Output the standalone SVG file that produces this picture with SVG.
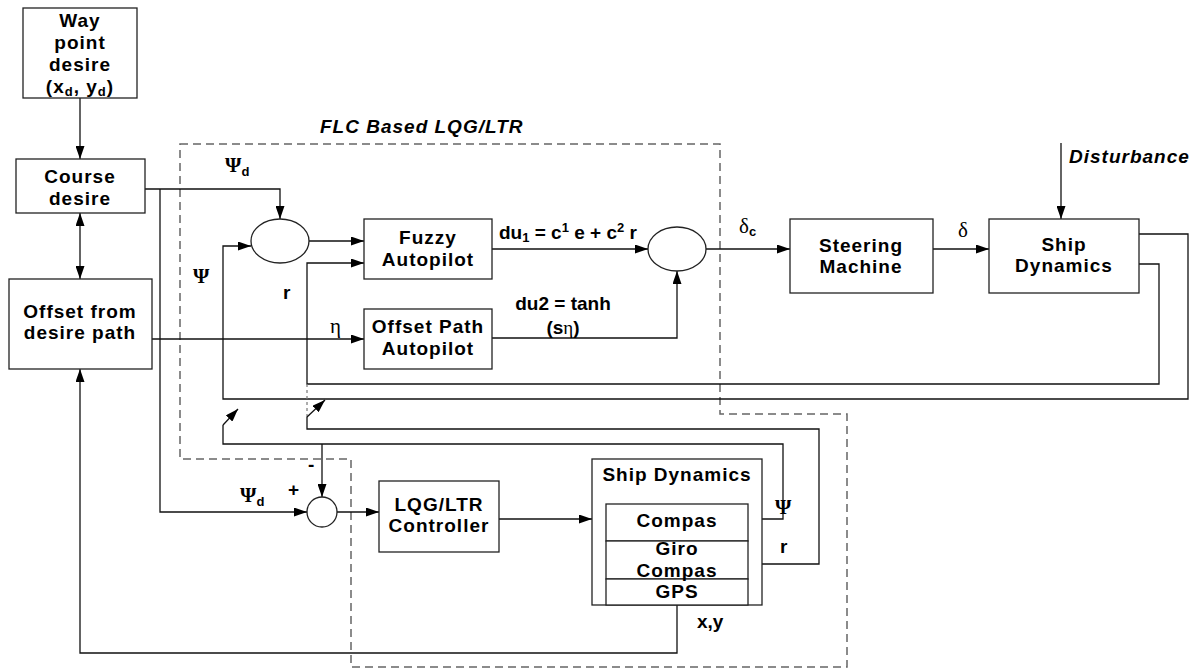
<svg xmlns="http://www.w3.org/2000/svg" width="1204" height="670" viewBox="0 0 1204 670">
<style>
.b{fill:#fff;stroke:#222;stroke-width:1.3}
.c{fill:none;stroke:#111;stroke-width:1.3}
.a{marker-end:url(#ah)}
.d{fill:none;stroke:#666;stroke-width:1.5;stroke-dasharray:8,5}
.t{font-family:"Liberation Sans",Arial,sans-serif;font-weight:bold;font-size:19px;letter-spacing:1px;text-anchor:middle;fill:#000}
.l{font-family:"Liberation Sans",Arial,sans-serif;font-weight:bold;font-size:19px;fill:#000}
.i{font-family:"Liberation Sans",Arial,sans-serif;font-weight:bold;font-style:italic;font-size:19px;letter-spacing:1px;fill:#000}
.g{font-family:"Liberation Serif","Times New Roman",serif;font-size:21px;font-weight:bold;fill:#000}
.n{font-family:"Liberation Serif","Times New Roman",serif;font-size:21px;font-weight:normal;fill:#000}
.s{font-size:13px}
</style>
<defs>
<marker id="ah" markerWidth="13" markerHeight="9" refX="13" refY="4.5" orient="auto-start-reverse" markerUnits="userSpaceOnUse"><path d="M0,0 L13,4.5 L0,9 z" fill="#000"/></marker>
</defs>
<rect width="1204" height="670" fill="#fff"/>
<path class="d" d="M180,144 H720 V414 H847 V667 H351 V459 H180 Z"/>
<text class="i" x="320" y="133">FLC Based LQG/LTR</text>
<g id="connectors">
<path class="c a" d="M80,98 V159"/>
<path class="c a" style="marker-start:url(#ah)" d="M80,213 V279"/>
<path class="c a" d="M145,189 H280 V219"/>
<path class="c a" d="M160,189 V512 H307"/>
<path class="c a" d="M309,241 H364"/>
<path class="c a" d="M1139,234 H1188 V399 H223 V246 H251"/>
<path class="c a" d="M1139,264 H1159 V384 H307 V263 H364"/>
<path class="c a" d="M152,339 H364"/>
<path class="c a" d="M492,249 H648"/>
<path class="c a" d="M492,338 H677 V271"/>
<path class="c a" d="M706,249 H790"/>
<path class="c a" d="M933,249 H989"/>
<path class="c a" d="M1061,143 V219"/>
<path fill="none" stroke="#777" stroke-width="1.2" stroke-dasharray="3,3" d="M307,384 V417"/>
<path class="c" d="M307,417 V429 H819 V564 H748"/>
<path class="c a" d="M307,417 L325,400"/>
<path class="c" d="M223,425 V444 H783 V519 H748"/>
<path class="c a" d="M223,425 L238,409"/>
<path class="c a" d="M322,444 V497"/>
<path class="c a" d="M337,512 H379"/>
<path class="c a" d="M499,519 H592"/>
<path class="c a" d="M677,605 V653 H80 V369"/>
</g>
<g id="waypoint"><rect class="b" x="23" y="8" width="114" height="90"/>
<text class="t" x="80" y="27">Way</text><text class="t" x="80" y="49">point</text><text class="t" x="80" y="71">desire</text>
<text class="t" x="80" y="93">(x<tspan class="s" dy="3">d</tspan><tspan dy="-3">, y</tspan><tspan class="s" dy="3">d</tspan><tspan dy="-3">)</tspan></text></g>
<g id="course"><rect class="b" x="16" y="159" width="129" height="54"/>
<text class="t" x="80" y="183">Course</text><text class="t" x="80" y="205">desire</text></g>
<g id="offset"><rect class="b" x="9" y="279" width="143" height="90"/>
<text class="t" x="80" y="318">Offset from</text><text class="t" x="80" y="339">desire path</text></g>
<g id="sum1"><ellipse class="b" cx="280" cy="241" rx="29" ry="22"/></g>
<g id="fuzzy"><rect class="b" x="364" y="219" width="128" height="60"/>
<text class="t" x="428" y="244">Fuzzy</text><text class="t" x="428" y="266">Autopilot</text></g>
<g id="offsetap"><rect class="b" x="364" y="309" width="128" height="60"/>
<text class="t" x="428" y="333">Offset Path</text><text class="t" x="428" y="355">Autopilot</text></g>
<g id="sum2"><ellipse class="b" cx="677" cy="249" rx="29" ry="22"/></g>
<g id="steering"><rect class="b" x="790" y="219" width="143" height="74"/>
<text class="t" x="861" y="252">Steering</text><text class="t" x="861" y="273">Machine</text></g>
<g id="ship"><rect class="b" x="989" y="219" width="150" height="74"/>
<text class="t" x="1064" y="251">Ship</text><text class="t" x="1064" y="272">Dynamics</text></g>
<g id="sum3"><circle class="b" cx="322" cy="512" r="15"/></g>
<g id="lqg"><rect class="b" x="379" y="481" width="120" height="71"/>
<text class="t" x="439" y="511">LQG/LTR</text><text class="t" x="439" y="532">Controller</text></g>
<g id="shipdyn2"><rect class="b" x="592" y="459" width="170" height="146"/>
<text class="t" x="677" y="481">Ship Dynamics</text>
<rect class="b" x="606" y="504" width="142" height="37"/>
<rect class="b" x="606" y="541" width="142" height="38"/>
<rect class="b" x="606" y="579" width="142" height="26"/>
<text class="t" x="677" y="527">Compas</text>
<text class="t" x="677" y="555">Giro</text><text class="t" x="677" y="577">Compas</text>
<text class="t" x="677" y="598">GPS</text></g>
<g id="labels">
<text class="g" x="225" y="172">Ψ<tspan class="l s" dy="4">d</tspan></text>
<text class="g" x="193" y="283">Ψ</text>
<text class="l" x="283" y="299">r</text>
<text class="n" x="330" y="333">η</text>
<text class="l" x="499" y="239">du<tspan class="s" dy="3">1</tspan><tspan dy="-3"> = c</tspan><tspan class="s" dy="-7">1</tspan><tspan dy="7"> e + c</tspan><tspan class="s" dy="-7">2</tspan><tspan dy="7"> r</tspan></text>
<text class="l" x="563" y="310" text-anchor="middle">du2 = tanh</text>
<text class="l" x="563" y="334" text-anchor="middle">(s<tspan style="font-family:'Liberation Serif',serif;font-weight:normal">η</tspan>)</text>
<text class="n" x="739" y="233">δ<tspan class="l s" dy="3">c</tspan></text>
<text class="n" x="958" y="237">δ</text>
<text class="i" x="1069" y="163">Disturbance</text>
<text class="l" x="308" y="471">-</text>
<text class="l" x="288" y="496">+</text>
<text class="g" x="240" y="502">Ψ<tspan class="l s" dy="4">d</tspan></text>
<text class="g" x="775" y="514">Ψ</text>
<text class="l" x="780" y="553">r</text>
<text class="l" x="697" y="628">x,y</text>
</g>
</svg>
